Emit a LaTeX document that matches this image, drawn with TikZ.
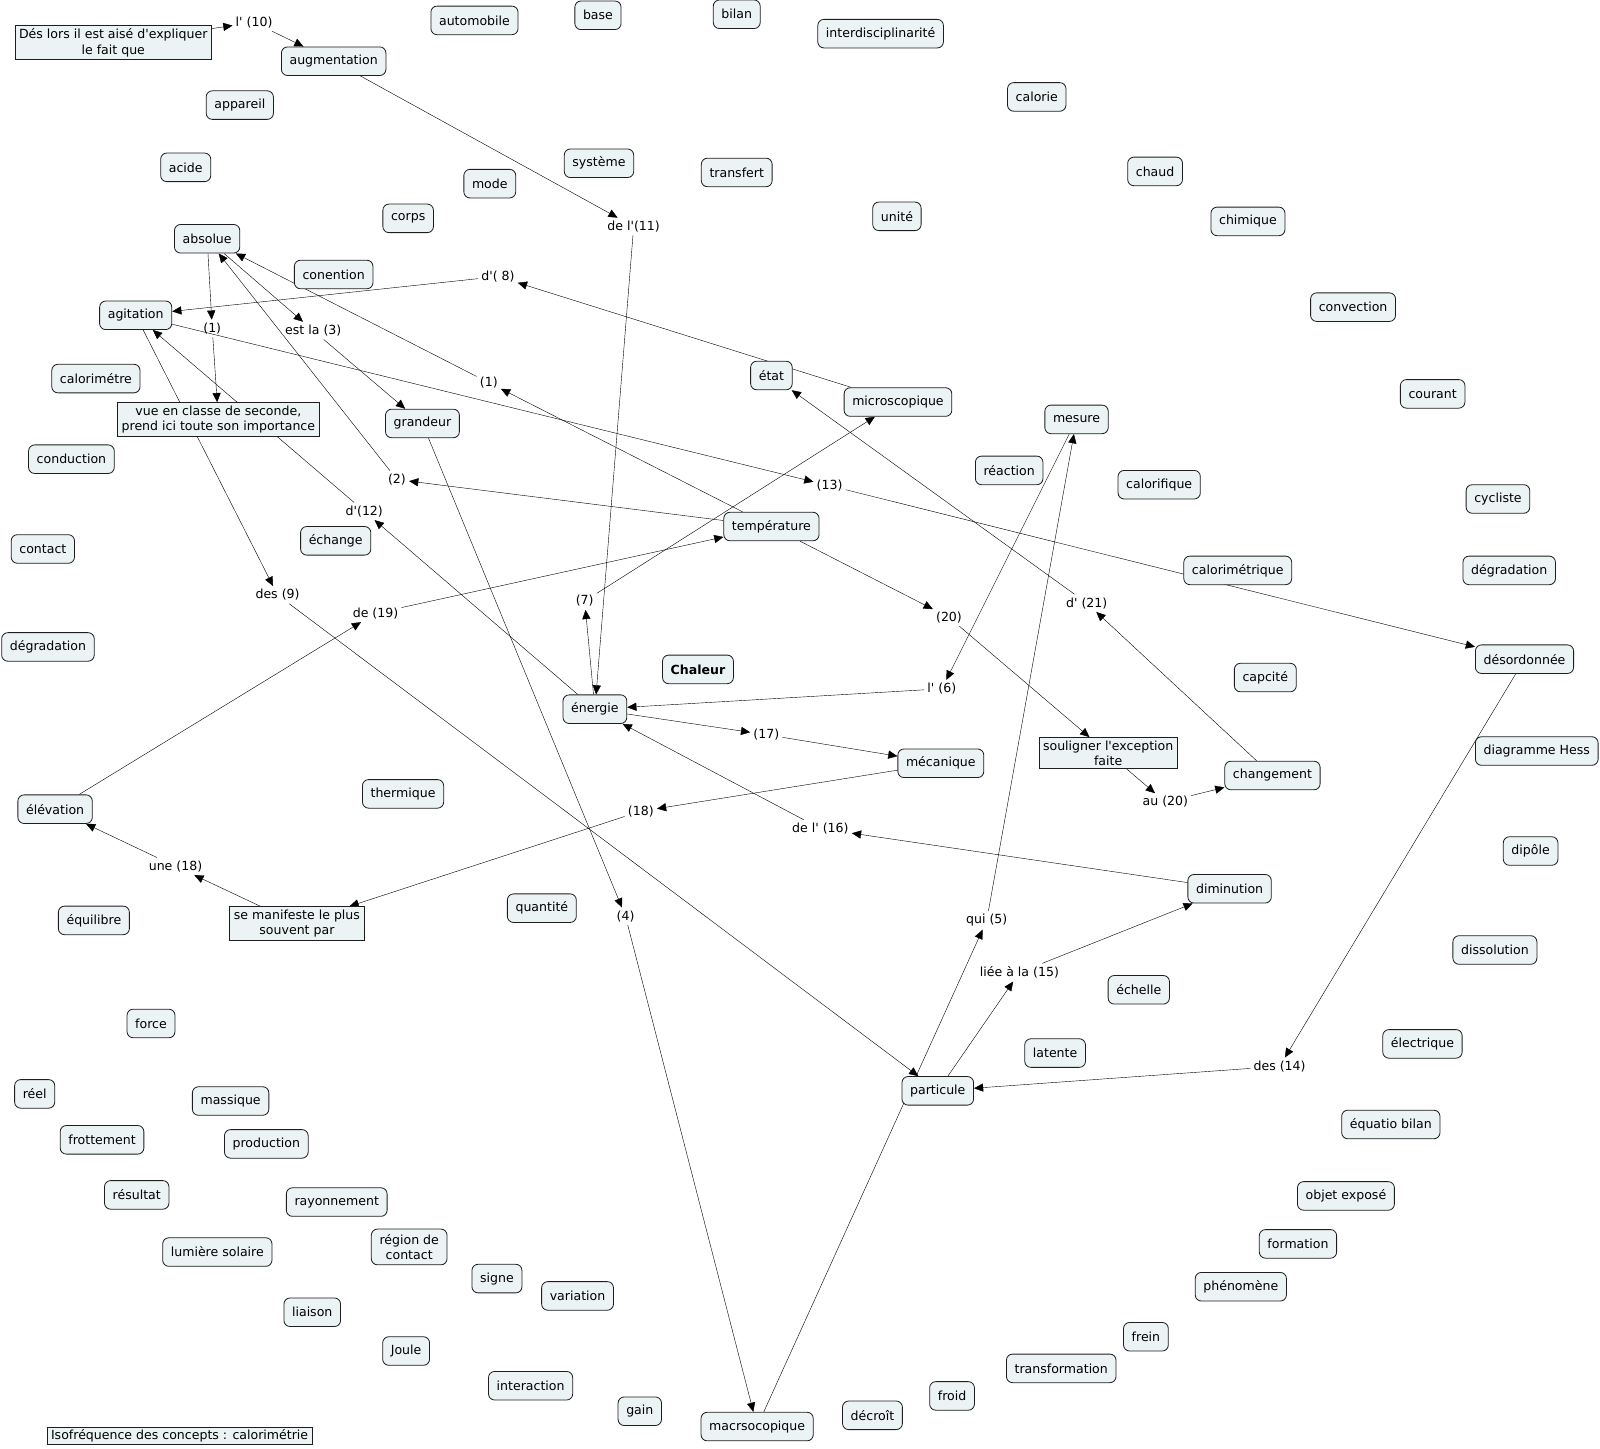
\documentclass[tikz,border=0pt]{standalone}
\usepackage{fontspec}
\setmainfont{DejaVu Sans}
\usetikzlibrary{arrows.meta,backgrounds}
\definecolor{conceptfill}{RGB}{236,243,244}
\definecolor{conceptline}{RGB}{30,30,30}
\newcommand{\apos}{\XeTeXglyph\XeTeXglyphindex "quotesingle"\relax}

\begin{document}
\begin{tikzpicture}[x=1pt, y=-1pt, >={Triangle[length=9pt,width=8pt]},
    concept/.style={draw=conceptline, line width=0.8pt, fill=conceptfill, rectangle, rounded corners=6pt, inner xsep=8pt, inner ysep=3pt, minimum height=28pt, align=center, font=\fontsize{12.3}{15}\selectfont},
    textbox/.style={draw=conceptline, line width=0.8pt, fill=conceptfill, rectangle, inner xsep=4pt, inner ysep=3pt, align=center, font=\fontsize{12.3}{15}\selectfont},
    phrase/.style={inner sep=3pt, font=\fontsize{12.3}{15}\selectfont}]
    \useasboundingbox (0,0) rectangle (1568,1420);

    \node[concept] (automobile) at (465,20) {automobile};
    \node[concept] (base) at (586,15) {base};
    \node[concept] (bilan) at (722,14) {bilan};
    \node[concept] (interdisciplinarite) at (863,33) {interdisciplinarité};
    \node[concept] (calorie) at (1016,95) {calorie};
    \node[concept] (augmentation) at (327,60) {augmentation};
    \node[concept] (appareil) at (235,103) {appareil};
    \node[concept] (acide) at (182,164) {acide};
    \node[concept] (systeme) at (587,160) {système};
    \node[concept] (mode) at (480,180) {mode};
    \node[concept] (transfert) at (722,169) {transfert};
    \node[concept] (chaud) at (1132,168) {chaud};
    \node[concept] (chimique) at (1223,217) {chimique};
    \node[concept] (unite) at (879,212) {unité};
    \node[concept] (corps) at (400,214) {corps};
    \node[concept] (absolue) at (203,234) {absolue};
    \node[concept] (conention) at (327,269) {conention};
    \node[concept] (convection) at (1326,301) {convection};
    \node[concept] (agitation) at (133,309) {agitation};
    \node[concept] (calorimetre) at (94,371) {calorimétre};
    \node[concept] (etat) at (756,368) {état};
    \node[concept] (microscopique) at (880,394) {microscopique};
    \node[concept] (courant) at (1404,386) {courant};
    \node[concept] (mesure) at (1055,411) {mesure};
    \node[concept] (grandeur) at (414,415) {grandeur};
    \node[concept] (conduction) at (70,450) {conduction};
    \node[concept] (reaction) at (989,461) {réaction};
    \node[concept] (calorifique) at (1136,475) {calorifique};
    \node[concept] (cycliste) at (1468,489) {cycliste};
    \node[concept] (echange) at (329,530) {échange};
    \node[concept] (temperature) at (756,516) {température};
    \node[concept] (contact) at (42,538) {contact};
    \node[concept] (calorimetrique) at (1213,559) {calorimétrique};
    \node[concept] (degradationB) at (1479,559) {dégradation};
    \node[concept] (degradationA) at (47,634) {dégradation};
    \node[concept, font=\fontsize{12.3}{15}\selectfont\bfseries] (chaleur) at (684,656) {Chaleur};
    \node[concept] (desordonnee) at (1494,646) {désordonnée};
    \node[concept] (capcite) at (1240,664) {capcité};
    \node[concept] (energie) at (583,695) {énergie};
    \node[concept] (hess) at (1506,736) {diagramme Hess};
    \node[concept] (mecanique) at (922,748) {mécanique};
    \node[concept] (changement) at (1247,760) {changement};
    \node[concept] (thermique) at (395,778) {thermique};
    \node[concept] (elevation) at (54,793) {élévation};
    \node[concept] (dipole) at (1500,834) {dipôle};
    \node[concept] (diminution) at (1205,871) {diminution};
    \node[concept] (quantite) at (531,890) {quantité};
    \node[concept] (equilibre) at (92,902) {équilibre};
    \node[concept] (dissolution) at (1465,931) {dissolution};
    \node[concept] (echelle) at (1116,970) {échelle};
    \node[concept] (force) at (148,1003) {force};
    \node[concept] (latente) at (1034,1032) {latente};
    \node[concept] (electrique) at (1394,1023) {électrique};
    \node[concept] (particule) at (919,1069) {particule};
    \node[concept] (reel) at (34,1072) {réel};
    \node[concept] (massique) at (226,1079) {massique};
    \node[concept] (equatio) at (1363,1102) {équatio bilan};
    \node[concept] (frottement) at (100,1117) {frottement};
    \node[concept] (production) at (261,1121) {production};
    \node[concept] (resultat) at (134,1171) {résultat};
    \node[concept] (objet) at (1319,1172) {objet exposé};
    \node[concept] (rayonnement) at (330,1178) {rayonnement};
    \node[concept] (formation) at (1272,1219) {formation};
    \node[concept] (lumiere) at (213,1227) {lumière solaire};
    \node[concept, inner ysep=5pt] (region) at (401,1222) {région de\\contact};
    \node[concept] (phenomene) at (1216,1261) {phénomène};
    \node[concept] (signe) at (487,1253) {signe};
    \node[concept] (variation) at (566,1270) {variation};
    \node[concept] (liaison) at (306,1286) {liaison};
    \node[concept] (frein) at (1123,1310) {frein};
    \node[concept] (transformation) at (1040,1341) {transformation};
    \node[concept] (joule) at (398,1324) {Joule};
    \node[concept] (interaction) at (520,1358) {interaction};
    \node[concept] (froid) at (933,1368) {froid};
    \node[concept] (gain) at (627,1383) {gain};
    \node[concept] (decroit) at (855,1387) {décroît};
    \node[concept] (macro) at (742,1398) {macrsocopique};

    \node[textbox] (deslors) at (111,42) {Dés lors il est aisé d\apos expliquer\\le fait que};
    \node[textbox] (vueclasse) at (214,411) {vue en classe de seconde,\\prend ici toute son importance};
    \node[textbox] (semanifeste) at (291,905) {se manifeste le plus\\souvent par};
    \node[textbox] (souligner) at (1086,738) {souligner l\apos exception\\faite};
    \node[textbox, inner ysep=2pt] (isofrequence) at (176,1407) {Isofréquence des concepts : calorimétrie};

    \node[phrase] (p10) at (249,22) {l\apos\ (10)};
    \node[phrase] (p11) at (621,222) {de l\apos(11)};
    \node[phrase] (p8) at (488,271) {d\apos( 8)};
    \node[phrase] (p1a) at (208,322) {(1)};
    \node[phrase] (p3) at (307,324) {est la (3)};
    \node[phrase] (p1b) at (479,375) {(1)};
    \node[phrase] (p2) at (389,470) {(2)};
    \node[phrase] (p12) at (357,501) {d\apos(12)};
    \node[phrase] (p13) at (813,476) {(13)};
    \node[phrase] (p9) at (272,583) {des (9)};
    \node[phrase] (p19) at (368,601) {de (19)};
    \node[phrase] (p7) at (573,589) {(7)};
    \node[phrase] (p20) at (930,605) {(20)};
    \node[phrase] (p21) at (1065,591) {d\apos\ (21)};
    \node[phrase] (p6) at (923,675) {l\apos\ (6)};
    \node[phrase] (p17) at (751,720) {(17)};
    \node[phrase] (p20b) at (1142,786) {au (20)};
    \node[phrase] (p18) at (628,795) {(18)};
    \node[phrase] (p16) at (804,812) {de l\apos\ (16)};
    \node[phrase] (p18b) at (172,849) {une (18)};
    \node[phrase] (p4) at (613,898) {(4)};
    \node[phrase] (p5) at (967,902) {qui (5)};
    \node[phrase] (p15) at (999,953) {liée à la (15)};
    \node[phrase] (p14) at (1254,1045) {des (14)};

    \begin{scope}[on background layer, line width=0.9pt]
    \draw[->] (deslors) -- (p10);
    \draw[->] (p10) -- (augmentation);
    \draw[->] (augmentation) -- (p11);
    \draw[->] (p11) -- (energie);
    \draw[->] (absolue) -- (p1a);
    \draw[->] (p1a) -- (vueclasse);
    \draw[->] (absolue) -- (p3);
    \draw[->] (p3) -- (grandeur);
    \draw[->] (temperature) -- (p2);
    \draw[->] (p2) -- (absolue);
    \draw[->] (temperature) -- (p1b);
    \draw[->] (p1b) -- (absolue);
    \draw[->] (microscopique) -- (p8);
    \draw[->] (p8) -- (agitation);
    \draw[->] (agitation) -- (p13);
    \draw[->] (p13) -- (desordonnee);
    \draw[->] (desordonnee) -- (p14);
    \draw[->] (p14) -- (particule);
    \draw[->] (agitation) -- (p9);
    \draw[->] (p9) -- (particule);
    \draw[->] (energie) -- (p12);
    \draw[->] (p12) -- (agitation);
    \draw[->] (elevation) -- (p19);
    \draw[->] (p19) -- (temperature);
    \draw[->] (energie) -- (p7);
    \draw[->] (p7) -- (microscopique);
    \draw[->] (temperature) -- (p20);
    \draw[->] (p20) -- (souligner);
    \draw[->] (souligner) -- (p20b);
    \draw[->] (p20b) -- (changement);
    \draw[->] (changement) -- (p21);
    \draw[->] (p21) -- (etat);
    \draw[->] (mesure) -- (p6);
    \draw[->] (p6) -- (energie);
    \draw[->] (macro) -- (p5);
    \draw[->] (p5) -- (mesure);
    \draw[->] (particule) -- (p15);
    \draw[->] (p15) -- (diminution);
    \draw[->] (diminution) -- (p16);
    \draw[->] (p16) -- (energie);
    \draw[->] (energie) -- (p17);
    \draw[->] (p17) -- (mecanique);
    \draw[->] (mecanique) -- (p18);
    \draw[->] (p18) -- (semanifeste);
    \draw[->] (semanifeste) -- (p18b);
    \draw[->] (p18b) -- (elevation);
    \draw[->] (grandeur) -- (p4);
    \draw[->] (p4) -- (macro);
    \end{scope}
\end{tikzpicture}
\end{document}
